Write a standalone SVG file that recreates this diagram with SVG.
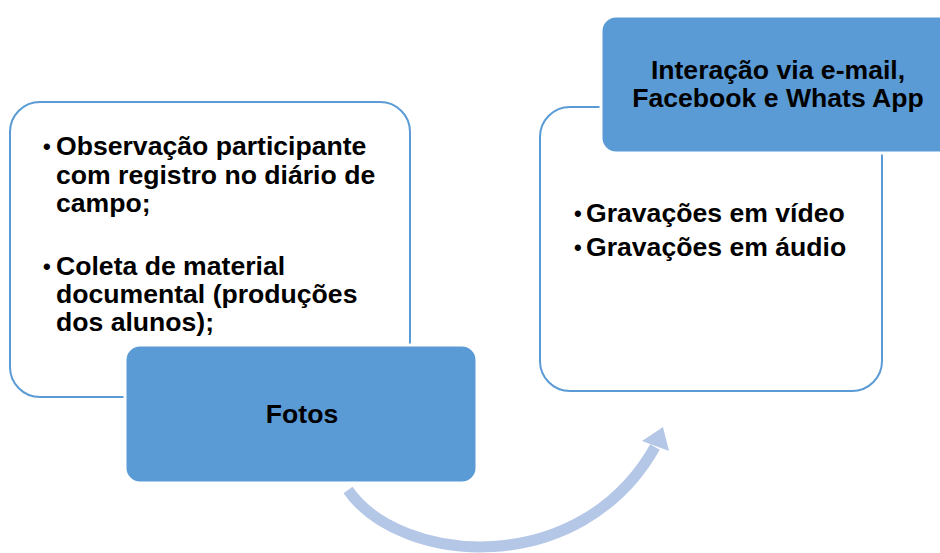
<svg xmlns="http://www.w3.org/2000/svg" width="940" height="553" viewBox="0 0 940 553">
<style>
.panel{fill:#ffffff;stroke:#5B9BD5;stroke-width:2}
.head{fill:#5B9BD5;stroke:#ffffff;stroke-width:3}
.t{font-family:"Liberation Sans",Arial,sans-serif;font-weight:bold;font-size:26.6px;fill:#000000}
.b{font-family:"Liberation Sans",Arial,sans-serif;font-weight:bold;font-size:22px;fill:#000000}
.c{text-anchor:middle}
</style>
<rect width="940" height="553" fill="#ffffff"/>
<g id="connectors">
<path d="M 348 490 C 400 565, 580 580, 655 447" fill="none" stroke="#B4C7E7" stroke-width="11"/>
<polygon points="663,427 642,441 669,451" fill="#B4C7E7"/>
</g>
<g id="node-left">
<rect class="panel" x="10" y="102" width="400" height="295" rx="30"/>
<text class="b" x="43" y="154">•</text>
<text class="t" x="56" y="155">Observação participante</text>
<text class="t" x="56" y="184">com registro no diário de</text>
<text class="t" x="56" y="212">campo;</text>
<text class="b" x="43" y="274">•</text>
<text class="t" x="56" y="275">Coleta de material</text>
<text class="t" x="56" y="303">documental (produções</text>
<text class="t" x="56" y="331">dos alunos);</text>
</g>
<g id="node-fotos">
<rect class="head" x="125" y="345" width="352" height="138" rx="15"/>
<text class="t c" x="302" y="423">Fotos</text>
</g>
<g id="node-right">
<rect class="panel" x="540" y="107" width="342" height="284" rx="30"/>
<text class="b" x="574" y="221">•</text>
<text class="t" x="586" y="222">Gravações em vídeo</text>
<text class="b" x="574" y="255">•</text>
<text class="t" x="586" y="256">Gravações em áudio</text>
</g>
<g id="node-interacao">
<rect class="head" x="601" y="16" width="360" height="137" rx="15"/>
<text class="t c" x="778" y="79">Interação via e-mail,</text>
<text class="t c" x="778" y="107">Facebook e Whats App</text>
</g>
</svg>
